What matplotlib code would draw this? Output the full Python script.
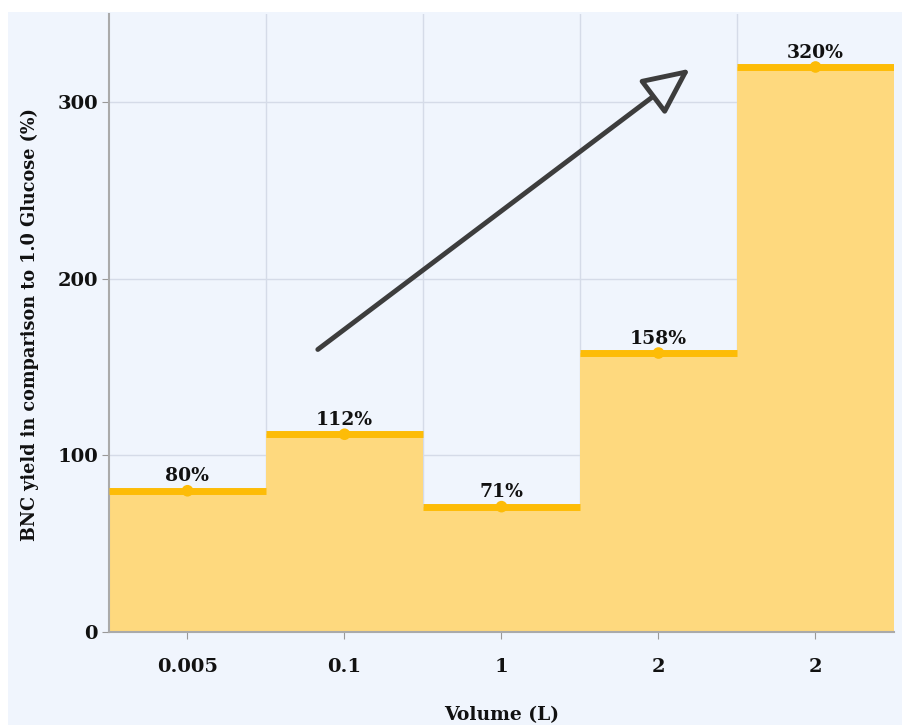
import numpy as np
import matplotlib.pyplot as plt
from matplotlib.patches import Rectangle, FancyArrowPatch

volumes = ['0.005', '0.1', '1', '2', '2']
yields = [80, 112, 71, 158, 320]

bg = '#f0f5fd'
fill = '#fed97e'
edge = '#fdbc07'
font = ['DejaVu Serif']

fig = plt.figure(figsize=(9.03, 7.25), dpi=100)
fig.patches.append(Rectangle((8 / 903, 0), 1, 1 - 12 / 725, transform=fig.transFigure,
                             facecolor=bg, edgecolor='none', zorder=-10))
ax = fig.add_axes([109 / 903, 93 / 725, 785 / 903, 618 / 725])
ax.set_facecolor(bg)

x = np.arange(len(yields))
ax.bar(x, yields, width=1.0, color=fill, edgecolor='none', zorder=2)
ax.hlines(yields, x - 0.5, x + 0.5, color=edge, lw=5, zorder=3)
ax.scatter(x, yields, s=70, color=edge, zorder=4, edgecolor='none')

for xi, v in zip(x, yields):
    ax.text(xi, v + 3, f'{v}%', ha='center', va='bottom', fontsize=13.5,
            fontweight='bold', family=font, color='#111111', zorder=5)

# trend arrow with hollow head
arrow = FancyArrowPatch((0.83, 160), (3.2, 319),
                        arrowstyle='-|>,head_length=1.6,head_width=0.75',
                        mutation_scale=18, lw=3.5, facecolor=bg,
                        edgecolor='#3d3d3d', shrinkA=0, shrinkB=0, zorder=6)
ax.add_patch(arrow)

ax.set_xlim(-0.5, 4.5)
ax.set_ylim(0, 350)
ax.set_xticks(x)
ax.set_xticklabels(volumes)
ax.set_yticks([0, 100, 200, 300])
ax.set_xticks(x[:-1] + 0.5, minor=True)
ax.grid(True, which='minor', axis='x', color='#d5dbe8', lw=1, zorder=0)
ax.grid(True, which='major', axis='y', color='#d5dbe8', lw=1, zorder=0)
ax.tick_params(axis='x', which='minor', length=0)
ax.tick_params(axis='both', which='major', color='#999999', length=5,
               labelsize=14, labelcolor='#111111')
ax.tick_params(axis='x', which='major', pad=14)
ax.tick_params(axis='y', which='major', pad=3)
for lbl in ax.get_xticklabels() + ax.get_yticklabels():
    lbl.set_fontweight('bold')
    lbl.set_family(font)

for s in ['top', 'right']:
    ax.spines[s].set_visible(False)
for s in ['left', 'bottom']:
    ax.spines[s].set_color('#aaaaaa')
    ax.spines[s].set_linewidth(1.5)

fig.text(502 / 903, 1 - 715 / 725, 'Volume (L)', ha='center', va='center',
         fontsize=13.5, fontweight='bold', family=font, color='#111111')
fig.text(30 / 903, 1 - 325 / 725, 'BNC yield in comparison to 1.0 Glucose (%)',
         ha='center', va='center', rotation=90, fontsize=12.7, fontweight='bold',
         family=font, color='#111111')

fig.savefig('out.png', dpi=100)
